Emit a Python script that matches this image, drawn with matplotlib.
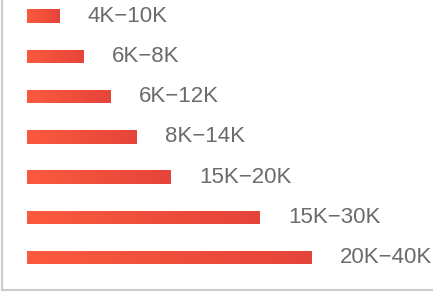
import matplotlib.pyplot as plt
import numpy as np
from matplotlib.colors import LinearSegmentedColormap

# salary ranges and bar lengths
labels = ['4K-10K', '6K-8K', '6K-12K', '8K-14K', '15K-20K', '15K-30K', '20K-40K']
values = [32, 56, 83, 109, 143, 232, 284]

cmap = LinearSegmentedColormap.from_list('bar', ['#fc5a3e', '#e5443a'])
grad = np.linspace(0, 1, 256).reshape(1, -1)

fig = plt.figure(figsize=(4.33, 2.92), dpi=100)
ax = fig.add_axes([0.004, 0.007, 0.996, 0.993])

h = 0.335
for i, (lab, v) in enumerate(zip(labels, values)):
    bar = ax.barh(i, v, height=h, color='none', edgecolor='none')[0]
    im = ax.imshow(grad, cmap=cmap, aspect='auto',
                   extent=[0, v, i + h / 2, i - h / 2], zorder=2)
    im.set_clip_path(bar)
    ax.annotate(lab.replace('-', '\u2212'), xy=(v, i), xytext=(21, 0),
                textcoords='offset points', va='center', ha='left',
                fontsize=16, color='#6b6b6b', family='Liberation Sans')

ax.set_xlim(-25, 406)
ax.set_ylim(6.8, -0.4)
ax.set_xticks([])
ax.set_yticks([])
for s in ['top', 'right']:
    ax.spines[s].set_visible(False)
for s in ['left', 'bottom']:
    ax.spines[s].set_color('#cccccc')
    ax.spines[s].set_linewidth(1.5)

fig.savefig('out.png', dpi=100)
